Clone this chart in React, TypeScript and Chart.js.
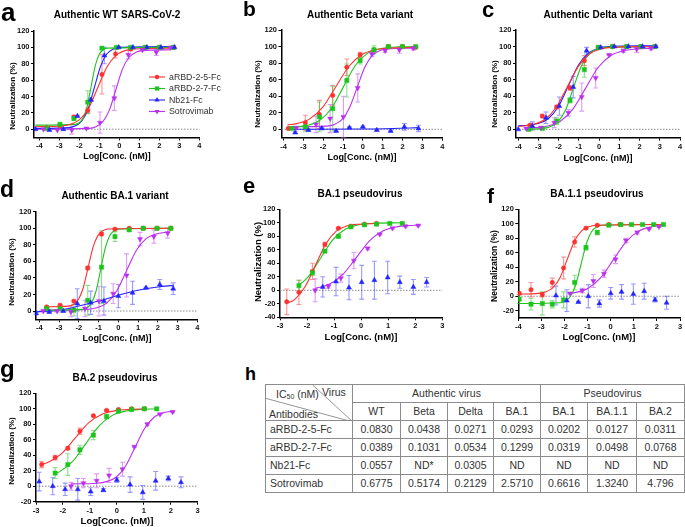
import React, { useEffect, useRef } from 'react';
import { Chart, registerables } from 'chart.js';

Chart.register(...registerables);

type P = [number, number, number]; // log conc, neutralization %, SD
type C = [number, number]; // fitted curve sample

const SERIES_NAMES = ['aRBD-2-5-Fc', 'aRBD-2-7-Fc', 'Nb21-Fc', 'Sotrovimab'];

// ---------- a: Authentic WT SARS-CoV-2 ----------
const A_RED: P[] = [[-3.64, 2, 1], [-2.97, 4, 1], [-2.27, 15, 2], [-1.58, 23, 3], [-0.87, 67, 24], [-0.19, 92, 5], [0.57, 98, 2], [1.3, 100, 1], [2.0, 100, 1], [2.7, 100, 1]];
const A_GREEN: P[] = [[-3.64, 1, 1], [-2.97, 6, 1], [-2.27, 13, 2], [-1.58, 33, 14], [-0.87, 99, 1], [-0.14, 100, 1], [0.57, 100, 0], [1.3, 100, 0], [2.0, 100, 0], [2.7, 100, 0]];
const A_BLUE: P[] = [[-4.2, 0, 0], [-3.5, -1, 0], [-2.8, 0, 0], [-2.1, 16, 1], [-1.42, 36, 2], [-0.75, 90, 10], [-0.03, 100, 1], [0.68, 100, 0], [1.38, 100, 0], [2.08, 100, 0], [2.76, 100, 0]];
const A_PURPLE: P[] = [[-3.8, 0, 0], [-3.1, -1, 0], [-2.38, -1, 5], [-1.65, 1, 1], [-0.97, 8, 13], [-0.25, 38, 15], [0.45, 91, 5], [1.15, 97, 1], [1.85, 94, 4], [2.55, 100, 1]];
const A_RED_FIT: C[] = [[-4.2, 3.1], [-2.9, 4], [-2.44, 6], [-1.99, 11.7], [-1.53, 26], [-1.08, 51], [-0.62, 76], [-0.17, 90.3], [0.28, 96], [0.74, 98], [2.75, 99]];
const A_GREEN_FIT: C[] = [[-4.2, 5], [-2.21, 5.9], [-2.01, 7.9], [-1.81, 13.6], [-1.61, 27.8], [-1.41, 52.5], [-1.21, 77.2], [-1.01, 91.4], [-0.81, 97.1], [-0.61, 99.1], [2.75, 100]];
const A_BLUE_FIT: C[] = [[-4.2, 1], [-2.5, 2], [-2.19, 4.1], [-1.88, 10.1], [-1.56, 25], [-1.25, 51], [-0.94, 77], [-0.63, 91.9], [-0.31, 97.9], [0.0, 100], [2.8, 101]];
const A_PURPLE_FIT: C[] = [[-4.2, 0], [-1.5, 1], [-1.17, 3], [-0.84, 8.8], [-0.5, 23.3], [-0.17, 48.5], [0.16, 73.7], [0.5, 88.2], [0.83, 94], [1.16, 96], [2.6, 97]];

// ---------- b: Authentic Beta variant ----------
const B_RED: P[] = [[-3.75, 1, 1], [-2.9, 8, 9], [-2.19, 18, 17], [-1.52, 41, 12], [-0.81, 75, 10], [-0.14, 90, 3], [0.56, 96, 2], [1.28, 100, 1], [1.99, 100, 1], [2.66, 99, 1]];
const B_GREEN: P[] = [[-3.58, 1, 1], [-2.9, 3, 6], [-2.19, 15, 18], [-1.52, 25, 27], [-0.81, 59, 20], [-0.14, 83, 4], [0.56, 96, 5], [1.28, 100, 1], [1.99, 100, 1], [2.66, 100, 1]];
const B_BLUE: P[] = [[-3.41, -4, 1], [-2.74, -1, 1], [-2.07, 1, 1], [-1.35, -2, 1], [-0.68, 2, 1], [0.0, 3, 1], [0.7, -1, 1], [1.4, -2, 1], [2.09, 3, 4], [2.8, 1, 4]];
const B_PURPLE: P[] = [[-3.36, 2, 1], [-2.36, 6, 10], [-1.65, 13, 17], [-0.98, 15, 25], [-0.26, 50, 17], [0.45, 91, 3], [1.12, 95, 2], [1.84, 96, 4], [2.54, 98, 2]];
const B_RED_FIT: C[] = [[-3.8, 5.3], [-3.33, 6.9], [-2.68, 12.6], [-2.02, 26.8], [-1.36, 51.5], [-0.7, 76.2], [-0.04, 90.4], [0.61, 96.1], [1.27, 98.1], [2.75, 99]];
const B_GREEN_FIT: C[] = [[-3.8, 2.4], [-3.34, 3], [-2.76, 5], [-2.17, 10.9], [-1.58, 25.5], [-0.99, 51], [-0.4, 76.5], [0.19, 91.1], [0.78, 97], [1.36, 99], [2.7, 100]];
const B_BLUE_FIT: C[] = [[-3.8, 0], [0.0, 0.3], [1.5, 1], [2.8, 2]];
const B_PURPLE_FIT: C[] = [[-3.8, 3], [-1.83, 3.9], [-1.44, 5.9], [-1.06, 11.6], [-0.68, 25.8], [-0.29, 50.5], [0.1, 75.2], [0.48, 89.4], [0.86, 95.1], [1.25, 97.1], [2.6, 98]];

// ---------- c: Authentic Delta variant ----------
const C_RED: P[] = [[-3.42, 5, 1], [-2.81, 16, 2], [-2.1, 27, 2], [-1.44, 50, 3], [-0.73, 83, 6], [-0.04, 99, 1], [0.66, 100, 1], [1.36, 100, 1], [2.06, 100, 1], [2.76, 100, 1]];
const C_GREEN: P[] = [[-3.47, 0, 1], [-2.81, 1, 1], [-2.1, 10, 4], [-1.44, 35, 3], [-0.73, 72, 9], [-0.04, 99, 2], [0.66, 100, 1], [1.36, 100, 1], [2.06, 100, 1], [2.76, 100, 1]];
const C_BLUE: P[] = [[-4.0, 0, 0], [-3.3, 4, 5], [-2.63, 14, 7], [-1.97, 28, 11], [-1.28, 51, 13], [-0.62, 95, 4], [0.08, 99, 1], [0.75, 100, 1], [1.45, 100, 1], [2.15, 100, 1], [2.8, 100, 1]];
const C_PURPLE: P[] = [[-3.6, 1, 1], [-2.88, 2, 1], [-2.22, 8, 6], [-1.52, 20, 4], [-0.86, 39, 17], [-0.17, 62, 12], [0.49, 90, 1], [1.2, 95, 2], [1.86, 97, 4], [2.57, 98, 2]];
const C_RED_FIT: C[] = [[-4.0, 3.6], [-3.79, 4], [-3.24, 6], [-2.68, 11.8], [-2.13, 26.3], [-1.57, 51.5], [-1.01, 76.7], [-0.46, 91.2], [0.1, 97], [0.65, 99], [2.8, 100]];
const C_GREEN_FIT: C[] = [[-3.5, 0], [-2.81, 1], [-2.42, 3.1], [-2.04, 9.1], [-1.65, 24], [-1.27, 50], [-0.89, 76], [-0.5, 90.9], [-0.12, 96.9], [0.27, 99], [2.8, 100]];
const C_BLUE_FIT: C[] = [[-4.0, 4.3], [-3.52, 5], [-3.02, 7], [-2.52, 12.8], [-2.02, 27.3], [-1.52, 52.5], [-1.02, 77.7], [-0.52, 92.2], [-0.02, 98], [0.48, 100], [2.8, 101]];
const C_PURPLE_FIT: C[] = [[-3.6, 1.3], [-3.17, 2], [-2.55, 4], [-1.92, 9.8], [-1.3, 24.3], [-0.67, 49.5], [-0.05, 74.7], [0.58, 89.2], [1.21, 95], [1.83, 97], [2.6, 97.8]];

// ---------- d: Authentic BA.1 variant ----------
const D_RED: P[] = [[-3.63, 5, 1], [-2.95, 7, 1], [-2.25, 12, 1], [-1.55, 52, 2], [-0.85, 93, 2], [-0.17, 99, 1], [0.55, 100, 1], [1.26, 100, 1], [1.96, 100, 1], [2.66, 100, 1]];
const D_GREEN: P[] = [[-3.63, 3, 1], [-2.95, 3, 1], [-2.25, 1, 7], [-1.55, 13, 18], [-0.85, 53, 44], [-0.17, 90, 6], [0.55, 98, 1], [1.26, 100, 1], [1.96, 100, 1], [2.66, 100, 1]];
const D_BLUE: P[] = [[-4.17, -3, 1], [-3.5, -1, 2], [-2.79, 0, 1], [-2.08, 9, 18], [-1.4, 10, 14], [-0.73, 12, 17], [0.0, 18, 14], [0.72, 22, 14], [1.4, 28, 1], [2.1, 32, 6], [2.78, 27, 7]];
const D_PURPLE: P[] = [[-3.8, 0, 1], [-3.1, 0, 1], [-2.4, -1, 6], [-1.69, 3, 10], [-0.98, 12, 18], [-0.26, 21, 12], [0.42, 43, 26], [1.1, 87, 8], [1.8, 90, 8], [2.5, 94, 6]];
const D_RED_FIT: C[] = [[-3.7, 5], [-2.53, 5.9], [-2.28, 7.9], [-2.03, 13.6], [-1.78, 27.8], [-1.53, 52.5], [-1.28, 77.2], [-1.03, 91.4], [-0.78, 97.1], [-0.53, 99.1], [2.7, 100]];
const D_GREEN_FIT: C[] = [[-3.7, 1], [-1.8, 2], [-1.57, 4.1], [-1.35, 10], [-1.12, 24.8], [-0.89, 50.5], [-0.66, 76.2], [-0.44, 91], [-0.21, 96.9], [0.02, 99], [2.7, 100]];
const D_BLUE_FIT: C[] = [[-4.17, -1], [-3, 1], [-2, 6], [-1, 12], [0, 19], [1, 25], [2, 29], [2.8, 31]];
const D_PURPLE_FIT: C[] = [[-3.8, 1], [-1.59, 1.9], [-1.09, 3.9], [-0.59, 9.6], [-0.09, 23.8], [0.41, 48.5], [0.91, 73.2], [1.41, 87.4], [1.91, 93.1], [2.41, 95.1], [2.6, 95.4]];

// ---------- e: BA.1 pseudovirus ----------
const E_RED: P[] = [[-2.75, -17, 19], [-2.3, -3, 18], [-1.8, 28, 12], [-1.34, 68, 3], [-0.84, 92, 1], [-0.38, 95, 1], [0.12, 98, 1], [0.57, 99, 1]];
const E_GREEN: P[] = [[-2.3, 7, 8], [-1.8, 26, 4], [-1.34, 58, 2], [-0.84, 80, 2], [-0.38, 94, 1], [0.12, 97, 1], [0.57, 98, 1], [1.06, 99, 1], [1.52, 99, 1]];
const E_BLUE: P[] = [[-1.42, 5, 15], [-0.93, 13, 21], [-0.45, 4, 18], [0.02, 12, 25], [0.49, 15, 28], [0.98, 19, 24], [1.43, 12, 9], [1.93, 5, 11], [2.42, 12, 7]];
const E_PURPLE: P[] = [[-1.7, 0, 17], [-1.21, 6, 3], [-0.75, 18, 6], [-0.27, 44, 12], [0.24, 62, 2], [0.69, 83, 1], [1.16, 92, 1], [1.64, 95, 1], [2.11, 96, 1]];
const E_RED_FIT: C[] = [[-2.75, -19], [-2.46, -13.7], [-2.08, 4.8], [-1.69, 37], [-1.3, 69.2], [-0.92, 87.7], [-0.54, 95.2], [-0.15, 97.8], [0.6, 98.9]];
const E_GREEN_FIT: C[] = [[-2.3, 7.3], [-1.95, 20.2], [-1.5, 47.5], [-1.05, 74.8], [-0.59, 90.4], [-0.14, 96.7], [0.32, 99], [1.52, 100]];
const E_PURPLE_FIT: C[] = [[-1.7, 2.8], [-1.18, 8.8], [-0.68, 23.3], [-0.18, 48.5], [0.32, 73.7], [0.82, 88.2], [1.32, 94], [1.82, 96], [2.11, 96.5]];

// ---------- f: BA.1.1 pseudovirus ----------
const F_RED: P[] = [[-3.96, 4, 2], [-3.45, 9, 10], [-2.96, 2, 3], [-2.53, 19, 6], [-2.04, 39, 15], [-1.56, 75, 7], [-1.07, 94, 1], [-0.58, 98, 1], [-0.08, 99, 1], [0.4, 99, 1]];
const F_GREEN: P[] = [[-3.96, -4, 6], [-3.45, -11, 8], [-2.96, -10, 16], [-2.53, -11, 5], [-2.04, -5, 11], [-1.56, 19, 10], [-1.07, 67, 3], [-0.58, 88, 3], [-0.08, 98, 1], [0.44, 99, 1], [0.9, 99, 1], [1.38, 99, 1], [1.86, 99, 1], [2.28, 99, 1]];
const F_BLUE: P[] = [[-2.37, 1, 13], [-1.9, -6, 15], [-1.4, -8, 1], [-0.97, 0, 16], [-0.49, -10, 5], [0.0, 4, 8], [0.47, 6, 10], [0.98, 3, 14], [1.45, 7, 11], [1.92, -5, 3], [2.42, -9, 9]];
const F_PURPLE: P[] = [[-1.76, 4, 1], [-1.23, 8, 3], [-0.75, 21, 9], [-0.29, 31, 5], [0.21, 51, 6], [0.66, 77, 3], [1.15, 88, 2], [1.66, 93, 1], [2.09, 96, 1]];
const F_RED_FIT: C[] = [[-4.0, 3], [-3.13, 4], [-2.82, 6], [-2.51, 11.7], [-2.19, 26], [-1.88, 51], [-1.57, 76], [-1.26, 90.3], [-0.94, 96], [-0.63, 98], [2.28, 99]];
const F_GREEN_FIT: C[] = [[-4.0, -10], [-2.19, -8.9], [-1.96, -6.6], [-1.74, 0], [-1.51, 16.2], [-1.28, 44.5], [-1.05, 72.8], [-0.83, 89.1], [-0.6, 95.6], [-0.37, 97.9], [2.28, 99]];
const F_PURPLE_FIT: C[] = [[-1.76, 3.9], [-1.55, 5], [-0.99, 10.8], [-0.44, 25.3], [0.12, 50.5], [0.68, 75.7], [1.23, 90.2], [1.79, 96], [2.1, 97.4]];

// ---------- g: BA.2 pseudovirus ----------
const G_RED: P[] = [[-2.79, 28, 4], [-2.29, 37, 3], [-1.82, 49, 2], [-1.37, 71, 4], [-0.87, 91, 1], [-0.38, 98, 1], [0.06, 99, 1], [0.55, 100, 1], [1.02, 100, 1]];
const G_GREEN: P[] = [[-2.29, 17, 7], [-1.82, 28, 14], [-1.37, 47, 6], [-0.87, 66, 6], [-0.38, 90, 3], [0.06, 97, 1], [0.55, 99, 1], [1.02, 100, 1], [1.48, 100, 1]];
const G_BLUE: P[] = [[-2.88, 6, 12], [-2.38, 0, 11], [-1.92, -4, 8], [-1.45, -4, 14], [-0.97, -7, 5], [-0.5, -5, 2], [0.0, 8, 3], [0.49, 2, 10], [0.96, -8, 9], [1.44, 7, 12], [1.91, 10, 3], [2.38, 5, 7]];
const G_PURPLE: P[] = [[-1.7, 0, 5], [-1.24, 4, 6], [-0.75, 7, 9], [-0.29, 14, 9], [0.21, 22, 9], [0.65, 51, 1], [1.13, 80, 2], [1.6, 93, 1], [2.07, 96, 1]];
const G_RED_FIT: C[] = [[-2.79, 28.1], [-2.55, 30.9], [-2.05, 42.2], [-1.55, 62], [-1.05, 81.8], [-0.55, 93.1], [-0.05, 97.6], [0.45, 99.2], [1.02, 99.8]];
const G_GREEN_FIT: C[] = [[-2.29, 16.1], [-2.15, 18.2], [-1.65, 31.6], [-1.15, 55], [-0.65, 78.4], [-0.15, 91.8], [0.35, 97.2], [0.85, 99.1], [1.48, 99.8]];
const G_PURPLE_FIT: C[] = [[-1.7, 3], [-0.75, 3.9], [-0.39, 5.9], [-0.03, 11.6], [0.32, 25.8], [0.68, 50.5], [1.04, 75.2], [1.39, 89.4], [1.75, 95.1], [2.11, 97.1]];

// ---------- axis ticks ----------
const X_TICKS_4 = [-4, -3, -2, -1, 0, 1, 2, 3, 4];
const X_TICKS_3 = [-3, -2, -1, 0, 1, 2, 3];
const X_TICKS_F = [-4, -3, -2, -1, 0, 1, 2, 3];
const Y_TICKS_0 = [0, 20, 40, 60, 80, 100, 120];
const Y_TICKS_40 = [-40, -20, 0, 20, 40, 60, 80, 100, 120];
const Y_TICKS_20 = [-20, 0, 20, 40, 60, 80, 100, 120];

// ---------- h: IC50 table ----------
const VIRUS_GROUPS = ['Authentic virus', 'Pseudovirus'];
const VIRUS_COLS = ['WT', 'Beta', 'Delta', 'BA.1', 'BA.1', 'BA.1.1', 'BA.2'];
const IC50_25 = ['0.0830', '0.0438', '0.0271', '0.0293', '0.0202', '0.0127', '0.0311'];
const IC50_27 = ['0.0389', '0.1031', '0.0534', '0.1299', '0.0319', '0.0498', '0.0768'];
const IC50_NB = ['0.0557', 'ND*', '0.0305', 'ND', 'ND', 'ND', 'ND'];
const IC50_SOT = ['0.6775', '0.5174', '0.2129', '2.5710', '0.6616', '1.3240', '4.796'];

// ---------- styles ----------
const FONT = '"Liberation Sans", Arial, Helvetica, sans-serif';
const COLORS = ['#ff3030', '#1ec41e', '#2424ff', '#bb30ee'];
const ERR_COLORS = ['rgba(255,60,60,0.55)', 'rgba(40,200,40,0.55)', 'rgba(50,50,255,0.5)', 'rgba(190,60,240,0.5)'];
const STYLES = ['circle', 'rect', 'triangle', 'triangle'];
const ROTS = [0, 0, 0, 180];
const RADII = [2.2, 3.0, 2.9, 2.9];

interface Spec {
  id: string;
  letter: [string, number, number, number];
  title: [string, number, number, number];
  xt: [number, number, number];
  yt: [number, number, number];
  box: [number, number, number, number];
  area: [number, number, number, number];
  x: [number, number];
  y: [number, number];
  xTicks: number[];
  yTicks: number[];
  points: P[][];
  fits: C[][];
  legend?: boolean;
}

const PANELS: Spec[] = [
  { id: 'a', letter: ['a', 1, 21, 26], title: ['Authentic WT SARS-CoV-2', 117, 18, 10], xt: [117, 159, 8.8], yt: [13, 96, 8],
    box: [0, 0, 232, 173], area: [34, 31, 199.3, 137.4], x: [-4.27, 4], y: [-10, 120], xTicks: X_TICKS_4, yTicks: Y_TICKS_0,
    points: [A_RED, A_GREEN, A_BLUE, A_PURPLE], fits: [A_RED_FIT, A_GREEN_FIT, A_BLUE_FIT, A_PURPLE_FIT], legend: true },
  { id: 'b', letter: ['b', 243, 16, 21], title: ['Authentic Beta variant', 360, 18, 10], xt: [362, 160, 9], yt: [258, 94, 8],
    box: [232, 0, 230, 173], area: [281.5, 30, 442.3, 137.6], x: [-4.1, 4], y: [-10, 120], xTicks: X_TICKS_4, yTicks: Y_TICKS_0,
    points: [B_RED, B_GREEN, B_BLUE, B_PURPLE], fits: [B_RED_FIT, B_GREEN_FIT, B_BLUE_FIT, B_PURPLE_FIT] },
  { id: 'c', letter: ['c', 482, 17, 22], title: ['Authentic Delta variant', 598, 18, 10], xt: [598, 161, 9], yt: [495, 94, 8],
    box: [462, 0, 223, 173], area: [516, 30, 680, 137.6], x: [-4.11, 4], y: [-10, 120], xTicks: X_TICKS_4, yTicks: Y_TICKS_0,
    points: [C_RED, C_GREEN, C_BLUE, C_PURPLE], fits: [C_RED_FIT, C_GREEN_FIT, C_BLUE_FIT, C_PURPLE_FIT] },
  { id: 'd', letter: ['d', 0, 197, 23], title: ['Authentic BA.1 variant', 115, 199, 10], xt: [117, 341, 9], yt: [12, 272, 8],
    box: [0, 173, 232, 177], area: [36, 211.7, 197.3, 319.3], x: [-4.17, 4], y: [-10, 120], xTicks: X_TICKS_4, yTicks: Y_TICKS_0,
    points: [D_RED, D_GREEN, D_BLUE, D_PURPLE], fits: [D_RED_FIT, D_GREEN_FIT, D_BLUE_FIT, D_PURPLE_FIT] },
  { id: 'e', letter: ['e', 243, 193, 22], title: ['BA.1 pseudovirus', 360, 197, 10], xt: [361, 340, 9.5], yt: [258, 262, 9.5],
    box: [232, 173, 230, 177], area: [280, 209.3, 442.3, 317.3], x: [-3, 3], y: [-40, 120], xTicks: X_TICKS_3, yTicks: Y_TICKS_40,
    points: [E_RED, E_GREEN, E_BLUE, E_PURPLE], fits: [E_RED_FIT, E_GREEN_FIT, [], E_PURPLE_FIT] },
  { id: 'f', letter: ['f', 487, 203, 21], title: ['BA.1.1 pseudovirus', 597, 197, 10], xt: [599, 340, 9.5], yt: [495, 266, 8.5],
    box: [462, 173, 223, 177], area: [518.3, 209.3, 680, 318], x: [-4, 3], y: [-30, 120], xTicks: X_TICKS_F, yTicks: Y_TICKS_20,
    points: [F_RED, F_GREEN, F_BLUE, F_PURPLE], fits: [F_RED_FIT, F_GREEN_FIT, [], F_PURPLE_FIT] },
  { id: 'g', letter: ['g', 0, 377, 24], title: ['BA.2 pseudovirus', 115, 381, 10], xt: [117, 524, 9.5], yt: [12, 451, 8],
    box: [0, 350, 240, 177], area: [36, 393.3, 197.7, 501.7], x: [-3, 3], y: [-20, 120], xTicks: X_TICKS_3, yTicks: Y_TICKS_20,
    points: [G_RED, G_GREEN, G_BLUE, G_PURPLE], fits: [G_RED_FIT, G_GREEN_FIT, [], G_PURPLE_FIT] },
];

function drawMarker(ctx: CanvasRenderingContext2D, i: number, x: number, y: number) {
  const r = RADII[i];
  ctx.beginPath();
  if (STYLES[i] === 'circle') {
    ctx.arc(x, y, r, 0, Math.PI * 2);
  } else if (STYLES[i] === 'rect') {
    const s = r * Math.SQRT1_2;
    ctx.rect(x - s, y - s, 2 * s, 2 * s);
  } else {
    let rad = (ROTS[i] * Math.PI) / 180;
    for (let k = 0; k < 3; k++) {
      const px = x + Math.sin(rad) * r;
      const py = y - Math.cos(rad) * r;
      if (k === 0) ctx.moveTo(px, py); else ctx.lineTo(px, py);
      rad += (2 * Math.PI) / 3;
    }
    ctx.closePath();
  }
  ctx.fill();
}

const errorBarPlugin = {
  id: 'errorBars',
  beforeDatasetsDraw(chart: any) {
    const ctx = chart.ctx;
    const ys = chart.scales.y;
    chart.data.datasets.forEach((ds: any, di: number) => {
      if (!ds.errs) return;
      const meta = chart.getDatasetMeta(di);
      ctx.save();
      ctx.strokeStyle = ds.errColor;
      ctx.lineWidth = 1.1;
      meta.data.forEach((el: any, i: number) => {
        const sd = ds.errs[i];
        if (!sd) return;
        const v = ds.data[i].y;
        const y1 = ys.getPixelForValue(v - sd);
        const y2 = ys.getPixelForValue(v + sd);
        const x = el.x;
        ctx.beginPath();
        ctx.moveTo(x, y1); ctx.lineTo(x, y2);
        ctx.moveTo(x - 2.4, y1); ctx.lineTo(x + 2.4, y1);
        ctx.moveTo(x - 2.4, y2); ctx.lineTo(x + 2.4, y2);
        ctx.stroke();
      });
      ctx.restore();
    });
  },
};

const zeroLinePlugin = {
  id: 'zeroLine',
  beforeDatasetsDraw(chart: any) {
    const { ctx, chartArea } = chart;
    const y = chart.scales.y.getPixelForValue(0);
    ctx.save();
    ctx.strokeStyle = '#8a8a8a';
    ctx.lineWidth = 1;
    ctx.setLineDash([1.5, 1.5]);
    ctx.beginPath();
    ctx.moveTo(chartArea.left, y);
    ctx.lineTo(chartArea.right, y);
    ctx.stroke();
    ctx.restore();
  },
};

function makeTextPlugin(spec: Spec) {
  return {
    id: 'panelText',
    afterDraw(chart: any) {
      const ctx: CanvasRenderingContext2D = chart.ctx;
      const [bl, bt] = spec.box;
      ctx.save();
      ctx.fillStyle = '#000';
      ctx.textBaseline = 'alphabetic';
      ctx.textAlign = 'left';
      ctx.font = `bold ${spec.letter[3]}px ${FONT}`;
      ctx.fillText(spec.letter[0], spec.letter[1] - bl, spec.letter[2] - bt);
      ctx.textAlign = 'center';
      ctx.font = `bold ${spec.title[3]}px ${FONT}`;
      ctx.fillText(spec.title[0], spec.title[1] - bl, spec.title[2] - bt);
      ctx.font = `bold ${spec.xt[2]}px ${FONT}`;
      ctx.fillText('Log[Conc. (nM)]', spec.xt[0] - bl, spec.xt[1] - bt);
      ctx.save();
      ctx.translate(spec.yt[0] - bl, spec.yt[1] - bt);
      ctx.rotate(-Math.PI / 2);
      ctx.textBaseline = 'middle';
      ctx.font = `bold ${spec.yt[2]}px ${FONT}`;
      ctx.fillText('Neutralization (%)', 0, 0);
      ctx.restore();
      if (spec.legend) {
        const ys = [77, 88.5, 100, 111.5];
        ctx.font = `8.8px ${FONT}`;
        ctx.textAlign = 'left';
        ctx.textBaseline = 'middle';
        SERIES_NAMES.forEach((name, i) => {
          const y = ys[i] - bt;
          ctx.strokeStyle = COLORS[i];
          ctx.lineWidth = 1.1;
          ctx.beginPath();
          ctx.moveTo(149 - bl, y);
          ctx.lineTo(165 - bl, y);
          ctx.stroke();
          ctx.fillStyle = COLORS[i];
          drawMarker(ctx, i, 157 - bl, y);
          ctx.fillStyle = '#333';
          ctx.fillText(name, 169 - bl, y + 0.5);
        });
      }
      ctx.restore();
    },
  };
}

function axis(min: number, max: number, ticks: number[], fit: (s: any) => void) {
  return {
    type: 'linear',
    min,
    max,
    afterBuildTicks: (s: any) => {
      s.ticks = ticks.map((v) => ({ value: v }));
    },
    afterFit: fit,
    grid: { display: true, drawOnChartArea: false, drawTicks: true, tickLength: 3, color: '#000', lineWidth: 1 },
    border: { display: true, color: '#000', width: 1.5 },
    ticks: {
      font: { family: FONT, size: 7.5, weight: 'bold' },
      color: '#111',
      padding: 1.5,
      maxRotation: 0,
      autoSkip: false,
      callback: (v: any) => String(v),
    },
  };
}

function Panel({ spec }: { spec: Spec }) {
  const ref = useRef<HTMLCanvasElement | null>(null);
  const [bl, bt, bw, bh] = spec.box;
  useEffect(() => {
    const canvas = ref.current;
    if (!canvas) return;
    const [al, at, ar, ab] = spec.area;
    const yW = al - bl;
    const xH = 16;
    const datasets: any[] = [];
    spec.fits.forEach((f, i) => {
      if (!f.length) return;
      datasets.push({
        data: f.map(([x, y]) => ({ x, y })),
        showLine: true,
        borderColor: COLORS[i],
        borderWidth: 1.1,
        pointRadius: 0,
        pointHoverRadius: 0,
        cubicInterpolationMode: 'monotone',
        fill: false,
        order: 5,
      });
    });
    spec.points.forEach((p, i) => {
      if (!p.length) return;
      datasets.push({
        data: p.map(([x, y]) => ({ x, y })),
        errs: p.map((q) => q[2]),
        errColor: ERR_COLORS[i],
        showLine: false,
        pointStyle: STYLES[i],
        pointRotation: ROTS[i],
        pointRadius: RADII[i],
        pointHoverRadius: RADII[i],
        pointBackgroundColor: COLORS[i],
        pointBorderColor: COLORS[i],
        pointBorderWidth: 0.5,
        order: 4 - i,
      });
    });
    const chart = new Chart(canvas, {
      type: 'scatter',
      data: { datasets },
      options: {
        responsive: false,
        animation: false,
        events: [],
        layout: { padding: { left: 0, top: at - bt, right: bl + bw - ar, bottom: bt + bh - ab - xH } },
        plugins: { legend: { display: false }, tooltip: { enabled: false }, title: { display: false } },
        scales: {
          x: axis(spec.x[0], spec.x[1], spec.xTicks, (s: any) => { s.height = xH; }),
          y: axis(spec.y[0], spec.y[1], spec.yTicks, (s: any) => { s.width = yW; }),
        },
      } as any,
      plugins: [zeroLinePlugin, errorBarPlugin, makeTextPlugin(spec)],
    } as any);
    return () => chart.destroy();
  }, [spec]);
  return <canvas ref={ref} width={bw} height={bh} style={{ position: 'absolute', left: bl, top: bt, width: bw, height: bh }} />;
}

function Ic50Table() {
  const colW = [87, 48, 47, 46, 47, 47, 49, 48];
  const rowH = [18.3, 18.3, 17.8, 18.2, 18, 17.8];
  const bd = '1px solid #8c8c8c';
  const cell: React.CSSProperties = { border: bd, padding: 0, textAlign: 'center', verticalAlign: 'middle', whiteSpace: 'nowrap', overflow: 'hidden' };
  const rows = [IC50_25, IC50_27, IC50_NB, IC50_SOT];
  return (
    <div style={{ position: 'absolute', left: 265, top: 383.5 }}>
      <table style={{ borderCollapse: 'collapse', tableLayout: 'fixed', width: 419, fontFamily: FONT, fontSize: 10.5, color: '#333', lineHeight: 1 }}>
        <colgroup>
          {colW.map((w, i) => <col key={i} style={{ width: w }} />)}
        </colgroup>
        <tbody>
          <tr style={{ height: rowH[0] }}>
            <td rowSpan={2} style={{ ...cell, position: 'relative', textAlign: 'left' }}>
              <svg width={87} height={37} style={{ position: 'absolute', left: 0, top: 0 }}>
                <line x1={46.7} y1={0} x2={87} y2={37} stroke="#7a7a7a" strokeWidth={0.8} />
                <line x1={0} y1={13.4} x2={87} y2={37} stroke="#7a7a7a" strokeWidth={0.8} />
              </svg>
              <span style={{ position: 'absolute', left: 10, top: 4 }}>IC<span style={{ fontSize: 7, position: 'relative', top: 1.5 }}>50</span> (nM)</span>
              <span style={{ position: 'absolute', left: 56, top: 2.5 }}>Virus</span>
              <span style={{ position: 'absolute', left: 3, top: 24.5 }}>Antibodies</span>
            </td>
            <td colSpan={4} style={cell}>{VIRUS_GROUPS[0]}</td>
            <td colSpan={3} style={cell}>{VIRUS_GROUPS[1]}</td>
          </tr>
          <tr style={{ height: rowH[1] }}>
            {VIRUS_COLS.map((v, i) => <td key={i} style={cell}>{v}</td>)}
          </tr>
          {rows.map((r, ri) => (
            <tr key={ri} style={{ height: rowH[ri + 2] }}>
              <td style={{ ...cell, textAlign: 'left', paddingLeft: 4 }}>{SERIES_NAMES[ri]}</td>
              {r.map((v, i) => <td key={i} style={cell}>{v}</td>)}
            </tr>
          ))}
        </tbody>
      </table>
    </div>
  );
}

export default function App() {
  return (
    <div style={{ position: 'absolute', left: 0, top: 0, width: 685, height: 527, background: '#fff', overflow: 'hidden' }}>
      {PANELS.map((s) => <Panel key={s.id} spec={s} />)}
      <div style={{ position: 'absolute', left: 245, top: 365, fontFamily: FONT, fontWeight: 'bold', fontSize: 18, lineHeight: 1, color: '#000' }}>h</div>
      <Ic50Table />
    </div>
  );
}
